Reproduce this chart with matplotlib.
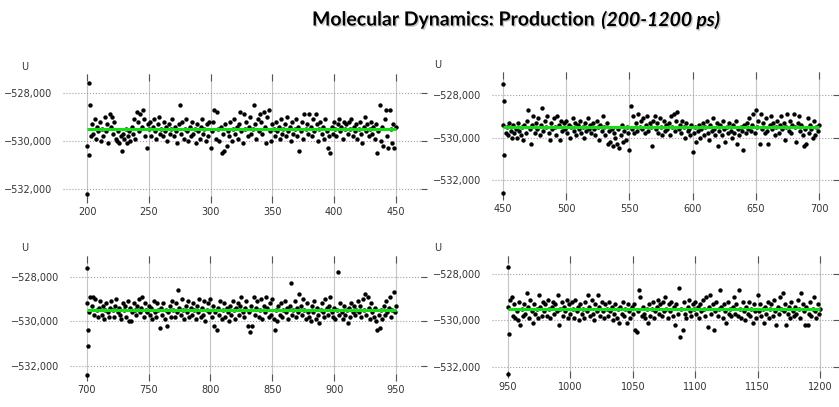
import numpy as np
import matplotlib
matplotlib.use("Agg")
from matplotlib import pyplot as plt
import matplotlib.patheffects as pe

# energy U in thousands, sampled every 1 ps
u_200_450 = [
    -530.2, -527.6, -528.5, -529.8, -529.3, -529.7, -529.1, -529.9, -529.4, -529.6,
    -529.2, -530.0, -529.5, -529.8, -529.0, -529.6, -529.3, -530.1, -528.9, -529.4,
    -529.0, -529.7, -529.2, -529.9, -530.0, -529.6, -530.1, -529.8, -530.4, -529.7,
    -529.9, -529.5, -530.1, -529.8, -529.6, -530.0, -529.4, -529.7, -529.1, -529.9,
    -528.8, -529.2, -529.6, -528.9, -529.4, -528.7, -529.1, -529.8, -530.3, -529.3,
    -529.5, -529.2, -529.8, -529.4, -529.1, -529.6, -529.9, -529.3, -529.0, -529.7,
    -529.5, -529.8, -529.2, -529.6, -529.4, -530.0, -529.3, -529.7, -529.5, -529.1,
    -529.8, -529.4, -529.6, -530.1, -529.3, -528.5, -529.7, -529.2, -529.9, -529.5,
    -529.1, -529.6, -530.0, -529.4, -529.8, -529.2, -529.7, -529.5, -530.1, -529.3,
    -529.6, -529.9, -529.4, -529.1, -529.7, -529.5, -530.0, -529.3, -529.8, -529.2,
    -530.3, -529.6, -529.2, -528.7, -529.9, -528.8, -529.5, -530.0, -529.4, -530.5,
    -529.7, -530.4, -529.3, -530.2, -529.6, -529.8, -529.2, -530.0, -529.5, -529.1,
    -529.7, -529.4, -529.9, -529.3, -528.8, -529.6, -530.1, -528.9, -529.5, -529.2,
    -529.8, -529.4, -529.0, -529.7, -529.5, -528.5, -529.3, -529.9, -529.1, -529.6,
    -528.9, -529.2, -529.7, -528.8, -529.4, -530.1, -529.0, -528.7, -529.6, -530.0,
    -529.3, -529.5, -529.8, -529.2, -529.6, -529.4, -529.9, -529.1, -529.7, -529.5,
    -529.3, -529.8, -529.0, -529.6, -529.4, -530.0, -529.2, -529.7, -529.5, -529.1,
    -529.8, -529.4, -530.4, -529.6, -529.2, -529.9, -528.9, -529.5, -529.3, -529.7,
    -528.9, -529.4, -529.8, -529.1, -529.6, -528.9, -529.3, -530.0, -529.5, -529.2,
    -529.7, -529.4, -529.9, -529.1, -529.6, -530.3, -529.8, -530.5, -529.4, -529.7,
    -529.2, -529.5, -529.8, -529.3, -529.1, -529.6, -529.4, -529.9, -529.2, -529.5,
    -529.3, -529.7, -529.2, -529.5, -529.1, -529.8, -529.4, -529.6, -529.3, -529.9,
    -529.5, -529.2, -529.7, -530.1, -529.4, -529.0, -529.6, -529.3, -529.8, -529.5,
    -529.2, -529.7, -529.4, -529.9, -529.3, -530.5, -529.6, -528.5, -530.0, -529.4,
    -530.2, -529.1, -528.7, -529.8, -530.3, -528.7, -529.5, -530.1, -529.3, -530.3,
    -529.4,
]
u_450_700 = [
    -529.4, -528.3, -529.8, -529.5, -529.9, -529.3, -529.7, -530.0, -529.4, -529.8,
    -529.6, -530.0, -529.3, -529.7, -529.9, -529.5, -530.1, -529.4, -529.8, -529.2,
    -528.7, -529.6, -530.3, -529.4, -529.0, -529.8, -529.3, -529.6, -529.1, -529.9,
    -529.4, -528.6, -529.7, -529.2, -529.5, -529.0, -529.8, -530.1, -529.3, -529.6,
    -529.1, -529.5, -529.9, -529.0, -529.4, -530.1, -529.2, -529.7, -529.3, -529.6,
    -529.2, -529.8, -529.4, -530.0, -529.5, -529.1, -529.7, -529.3, -529.9, -529.4,
    -529.6, -529.2, -529.8, -529.5, -530.0, -529.3, -529.7, -529.1, -529.6, -529.4,
    -529.8, -529.3, -529.6, -529.9, -529.2, -529.5, -530.1, -529.4, -529.7, -529.0,
    -529.5, -529.9, -529.3, -530.3, -529.7, -530.2, -529.6, -530.4, -529.8, -530.0,
    -530.3, -529.6, -530.5, -529.9, -529.4, -530.2, -529.7, -530.1, -529.5, -529.8,
    -530.6, -528.5, -529.6, -529.0, -529.8, -529.3, -529.7, -528.9, -529.5, -529.2,
    -529.6, -529.1, -529.8, -529.4, -529.0, -529.7, -529.3, -529.5, -530.4, -529.2,
    -529.0, -529.6, -529.3, -529.8, -529.1, -529.5, -529.9, -529.2, -529.7, -529.4,
    -529.6, -529.3, -529.9, -529.0, -529.5, -528.9, -529.7, -529.2, -528.8, -529.6,
    -529.4, -529.8, -529.2, -529.5, -530.0, -529.3, -529.7, -529.6, -529.9, -529.4,
    -530.7, -529.8, -529.5, -530.2, -529.7, -529.4, -530.0, -529.6, -529.3, -529.9,
    -529.5, -529.2, -529.8, -530.1, -529.4, -529.7, -529.1, -529.6, -529.9, -529.3,
    -530.4, -529.7, -529.4, -529.9, -529.2, -529.6, -530.2, -529.5, -529.8, -529.3,
    -529.7, -530.0, -529.4, -529.8, -529.2, -530.3, -529.6, -529.9, -529.5, -529.7,
    -530.6, -529.4, -529.8, -529.3, -529.6, -529.1, -529.7, -529.4, -528.9, -529.8,
    -528.7, -529.5, -529.2, -530.3, -528.9, -529.6, -529.3, -529.8, -529.1, -529.7,
    -530.3, -529.4, -529.0, -529.6, -529.3, -529.9, -529.5, -529.2, -529.8, -529.4,
    -529.0, -529.6, -529.3, -530.1, -529.5, -528.9, -529.7, -529.2, -529.8, -529.4,
    -528.9, -529.5, -530.2, -529.3, -529.0, -529.7, -529.4, -529.9, -530.4, -529.6,
    -530.3, -529.1, -529.8, -529.4, -529.6, -530.0, -529.2, -529.9, -529.5, -529.7,
    -529.4,
]
u_700_950 = [
    -529.2, -530.4, -529.6, -528.9, -529.3, -528.9, -529.7, -529.0, -529.5, -529.8,
    -529.4, -529.1, -529.7, -529.3, -529.9, -529.5, -529.2, -529.6, -529.8, -529.4,
    -529.1, -529.5, -529.8, -529.3, -529.0, -529.6, -529.4, -529.7, -529.9, -529.2,
    -529.5, -529.3, -529.8, -529.1, -530.0, -529.4, -530.0, -529.6, -529.2, -529.5,
    -529.7, -529.3, -529.0, -529.6, -529.4, -528.9, -529.8, -529.2, -529.5, -529.6,
    -529.3, -529.7, -529.4, -529.9, -529.1, -529.6, -529.8, -529.2, -529.5, -530.3,
    -529.4, -529.7, -529.2, -529.9, -529.5, -530.2, -529.6, -529.3, -529.8, -529.1,
    -529.5, -529.8, -529.2, -529.6, -528.6, -529.4, -529.7, -529.0, -529.5, -529.9,
    -529.3, -529.6, -529.1, -529.8, -529.4, -529.7, -529.2, -529.5, -529.9, -529.3,
    -529.6, -529.0, -529.8, -529.4, -529.7, -529.1, -530.0, -529.5, -529.2, -529.6,
    -529.0, -529.8, -529.3, -530.2, -529.6, -530.4, -529.4, -529.7, -529.1, -529.9,
    -529.5, -529.2, -529.8, -529.4, -529.6, -530.0, -529.3, -529.7, -529.1, -529.5,
    -529.9, -529.4, -529.2, -529.7, -529.3, -528.9, -529.6, -529.8, -529.4, -529.1,
    -530.2, -529.6, -530.5, -529.3, -530.2, -528.9, -529.7, -529.4, -529.1, -529.8,
    -529.5, -529.0, -529.9, -529.3, -529.6, -528.9, -529.4, -529.8, -529.2, -529.7,
    -529.0, -529.9, -530.4, -529.5, -530.0, -529.3, -529.7, -529.2, -529.8, -529.5,
    -529.1, -529.6, -529.4, -529.9, -529.3, -528.3, -529.7, -529.5, -529.1, -529.8,
    -529.4, -529.6, -528.8, -529.3, -529.7, -529.0, -529.5, -529.9, -529.2, -529.6,
    -529.8, -530.0, -529.3, -529.6, -529.1, -529.9, -529.4, -529.7, -530.1, -529.5,
    -529.2, -529.6, -529.8, -529.0, -529.4, -529.7, -529.3, -528.9, -529.6, -529.8,
    -529.4, -529.9, -529.5, -527.8, -529.7, -529.2, -529.6, -529.9, -529.3, -529.7,
    -529.5, -530.1, -529.4, -529.8, -529.2, -529.6, -529.3, -529.7, -529.5, -529.1,
    -529.6, -529.3, -529.8, -529.0, -529.5, -528.8, -529.7, -528.9, -529.4, -529.9,
    -529.2, -529.6, -529.8, -529.4, -530.0, -530.4, -529.7, -530.3, -529.5, -529.9,
    -529.3, -529.7, -529.1, -529.6, -529.4, -528.9, -529.8, -529.5, -528.7, -529.6,
    -529.3,
]
u_950_1200 = [
    -529.4, -530.6, -529.1, -529.0, -529.8, -529.3, -529.9, -529.6, -530.0, -529.2,
    -530.2, -529.5, -529.8, -529.3, -529.7, -528.8, -529.4, -529.9, -529.1, -529.6,
    -530.1, -529.3, -529.7, -529.5, -529.9, -528.9, -529.4, -529.8, -529.2, -529.6,
    -529.3, -529.8, -529.1, -529.5, -529.9, -529.4, -529.2, -529.7, -529.3, -529.6,
    -528.9, -530.2, -529.5, -529.2, -529.8, -529.4, -529.6, -529.1, -529.9, -529.3,
    -529.7, -529.2, -529.5, -529.9, -529.1, -529.6, -529.4, -530.0, -529.3, -529.7,
    -529.5, -529.9, -529.2, -529.6, -528.9, -529.4, -529.8, -529.1, -529.7, -530.0,
    -529.3, -529.6, -528.9, -529.4, -529.8, -529.2, -529.6, -529.9, -529.3, -529.5,
    -529.8, -529.2, -529.6, -529.4, -530.0, -529.7, -529.3, -529.9, -529.5, -530.1,
    -529.4, -529.7, -529.2, -529.8, -529.5, -530.1, -529.3, -529.6, -529.9, -529.4,
    -529.7, -529.3, -530.4, -530.5, -529.6, -528.7, -529.0, -529.8, -529.4, -529.7,
    -529.9, -529.5, -530.1, -529.3, -529.8, -529.5, -529.2, -529.9, -529.6, -529.4,
    -529.1, -529.7, -529.3, -529.8, -529.2, -529.6, -529.0, -529.5, -529.9, -529.3,
    -529.6, -529.2, -529.8, -529.4, -530.2, -529.3, -529.7, -528.6, -530.7, -529.5,
    -530.4, -529.2, -529.7, -529.9, -529.4, -529.1, -529.6, -529.8, -529.3, -529.5,
    -529.2, -529.7, -529.4, -529.9, -529.3, -529.6, -529.1, -529.5, -529.8, -529.0,
    -530.3, -529.4, -528.9, -529.7, -529.3, -530.4, -529.6, -529.2, -529.8, -529.5,
    -528.7, -529.4, -529.9, -529.3, -529.6, -530.1, -529.2, -529.7, -529.5, -529.8,
    -529.4, -529.0, -529.7, -529.3, -529.8, -528.7, -529.5, -529.9, -529.2, -529.6,
    -530.0, -529.4, -529.7, -529.2, -529.8, -529.5, -530.1, -529.3, -529.6, -529.9,
    -528.9, -529.6, -529.3, -529.8, -529.5, -530.1, -529.4, -529.7, -529.2, -529.9,
    -529.5, -529.3, -529.8, -529.1, -529.6, -530.2, -529.4, -529.7, -529.0, -529.5,
    -528.8, -529.6, -529.3, -530.2, -529.7, -529.4, -529.9, -529.2, -529.6, -529.8,
    -529.4, -529.7, -529.1, -529.5, -529.9, -528.8, -529.3, -529.6, -530.2, -529.4,
    -530.2, -529.7, -529.2, -529.8, -529.5, -529.0, -529.6, -529.9, -529.3, -529.7,
    -529.5,
]

# extra early points (several samples at the very start of each window)
extra_t = [[200, 201], [450, 450, 451], [700, 700, 701], [950, 950]]
extra_u = [[-532.2, -530.6], [-527.5, -532.6, -530.8], [-527.6, -532.4, -531.1], [-527.7, -532.3]]

starts = [200, 450, 700, 950]
series = [u_200_450, u_450_700, u_700_950, u_950_1200]
trend = [-529.5, -529.5, -529.5, -529.5]
yticks = [-528000, -530000, -532000]

W, H = 839, 407

# pixel layout: box (l, t, r, b), x refs, y refs, U label pos
layout = [
    ((63, 74, 427, 203), ((200, 87.3), (450, 395.7)), ((-528000, 92.7), (-532000, 189.3)), (25, 67)),
    ((492, 72, 839, 200), ((450, 503), (700, 819)), ((-528000, 95), (-532000, 180)), (438, 65)),
    ((70, 256, 427, 381), ((700, 86.7), (950, 396)), ((-528000, 276.7), (-532000, 365.7)), (25, 248)),
    ((492, 256, 839, 378), ((950, 508), (1200, 820)), ((-528000, 274), (-532000, 367)), (438, 248)),
]

fig = plt.figure(figsize=(W / 100, H / 100), dpi=100)

for i in range(4):
    (l, t, r, b), xr, yr, upos = layout[i]
    ax = fig.add_axes([l / W, 1 - b / H, (r - l) / W, (b - t) / H])
    sx = (xr[1][1] - xr[0][1]) / (xr[1][0] - xr[0][0])
    ax.set_xlim(xr[0][0] + (l - xr[0][1]) / sx, xr[0][0] + (r - xr[0][1]) / sx)
    sy = (yr[1][1] - yr[0][1]) / (yr[1][0] - yr[0][0])
    ax.set_ylim(yr[0][0] + (b - yr[0][1]) / sy, yr[0][0] + (t - yr[0][1]) / sy)

    u = np.array(series[i]) * 1000
    tt = starts[i] + np.arange(len(u))
    ax.scatter(tt, u, s=10, color='black', linewidths=0, zorder=3)
    ax.scatter(extra_t[i], np.array(extra_u[i]) * 1000, s=10, color='black', linewidths=0, zorder=3)
    ax.plot([tt[0], tt[-1]], [trend[i] * 1000] * 2, color='#12e012', lw=2.2, zorder=4,
            solid_capstyle='butt')

    for s in ax.spines.values():
        s.set_visible(False)
    ax.set_xticks(np.arange(starts[i], starts[i] + 251, 50))
    ax.set_yticks(yticks)
    ax.set_yticklabels(['\u2212{:,}'.format(abs(v)) for v in yticks])
    ax.grid(axis='x', color='#c4c4c4', lw=0.8, ls='-')
    ax.grid(axis='y', color='#a0a0a0', lw=0.8, ls=':')
    ax.set_axisbelow(True)
    ax.tick_params(axis='x', top=True, bottom=True, direction='in', length=5, width=0.8,
                   color='#555555', labelsize=7, pad=3, labelcolor='#333333')
    ax.tick_params(axis='y', left=False, right=True, direction='in', length=4, width=0.8,
                   color='#555555', labelsize=7, pad=8, labelcolor='#333333')
    for lab in ax.get_xticklabels():
        lab.set_family(['Liberation Sans Narrow', 'DejaVu Sans'])
    fig.text(upos[0] / W, 1 - upos[1] / H, 'U', fontsize=7, color='#333333',
             ha='center', va='center')

shadow = [pe.withSimplePatchShadow(offset=(1, -1), shadow_rgbFace='#999999', alpha=0.5)]
t1 = fig.text(312 / W, 1 - 20 / H, 'Molecular Dynamics: Production ', fontsize=14,
              fontweight='bold', family='Lato', va='center', ha='left', path_effects=shadow)
fig.canvas.draw()
bb = t1.get_window_extent()
fig.text(bb.x1 / W, 1 - 20 / H, '(200-1200 ps)', fontsize=14, fontweight='bold',
         style='italic', family='Lato', va='center', ha='left', path_effects=shadow)

fig.savefig('out.png', dpi=100)
